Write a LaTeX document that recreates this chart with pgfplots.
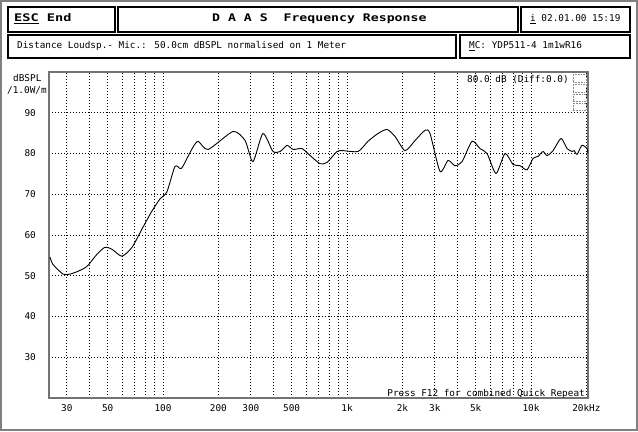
\documentclass[border=0pt]{standalone}
\usepackage{pgfplots}
\pgfplotsset{compat=1.18}
\usepackage{fontspec}
\setmainfont{DejaVu Sans Mono}
\newcommand{\sm}{\fontsize{9.4}{10}\selectfont}
\newcommand{\bigb}{\fontsize{10.5}{11}\selectfont\bfseries}
\begin{document}
\begin{tikzpicture}[x=1bp,y=1bp]
% canvas
\fill[white] (0,0) rectangle (638,431);
\draw[black!50, line width=2bp] (1,1) rectangle (637,430);
% header boxes
\begin{scope}[line width=2bp]
\draw (8,399) rectangle (115,424);
\draw (118,399) rectangle (518,424);
\draw (521,399) rectangle (630,424);
\draw (8,373) rectangle (456,396);
\draw (460,373) rectangle (630,396);
\end{scope}
\node[anchor=west, inner sep=0] at (14,412) {\bigb\scalebox{1.3}[1]{\underline{ESC} End}};
\node[anchor=west, inner sep=0] at (212,412) {\bigb\scalebox{1.26}[1]{D A A S\ \ Frequency Response}};
\node[anchor=west, inner sep=0] at (530,412) {\sm\underline{i} 02.01.00 15:19};
\node[anchor=west, inner sep=0] at (17,385) {\sm Distance Loudsp.- Mic.: 50.0cm dBSPL normalised on 1 Meter};
\node[anchor=west, inner sep=0] at (469,385) {\sm\underline{M}C: YDP511-4 1m1wR16};
% y unit label
\node[anchor=west, inner sep=0] at (13,353) {\sm dBSPL};
\node[anchor=west, inner sep=0] at (7,341) {\sm/1.0W/m};
\begin{axis}[
  at={(49bp,33bp)}, anchor=south west,
  scale only axis, width=539bp, height=326bp,
  xmode=log, xmin=24, xmax=20400, ymin=20, ymax=100,
  axis line style={draw=black!55, line width=1.6bp},
  xtick={30,50,100,200,300,500,1000,2000,3000,5000,10000,20000},
  xticklabels={30,50,100,200,300,500,1k,2k,3k,5k,10k,20kHz},
  minor xtick={30,40,50,60,70,80,90,100,200,300,400,500,600,700,800,900,1000,2000,3000,4000,5000,6000,7000,8000,9000,10000,20000},
  ytick={30,40,50,60,70,80,90},
  yticklabels={30,40,50,60,70,80,90},
  xmajorgrids=false, xminorgrids=true, ymajorgrids=true,
  major tick length=0pt, minor tick length=0pt,
  grid style={black, line width=0.9bp, dash pattern=on 0.9bp off 2.1bp},
  minor grid style={black, line width=0.9bp, dash pattern=on 0.9bp off 2.1bp},
  xticklabel style={font=\sm, inner sep=0pt, anchor=center, yshift=-10bp},
  yticklabel style={font=\sm, inner sep=0pt, anchor=east, xshift=-13bp},
  clip=true,
]
\addplot[black, line width=0.9bp, smooth, tension=0.4] table {
24.3 54.6
25.2 52.8
28.6 50.4
31.2 50.4
34.5 51.1
38.6 52.3
43.8 55.3
48.4 57.0
52.8 56.5
59.8 54.8
67.9 57.0
76.9 61.5
87.1 65.9
96.4 68.9
105 70.6
116 76.8
124 76.3
128 76.8
144 81.2
155 83.0
176 81.0
240 85.4
279 83.2
308 78.0
349 84.9
396 80.5
433 80.5
472 82.0
509 81.0
569 81.2
630 79.5
713 77.5
778 77.8
883 80.5
951 80.7
1148 80.5
1300 83.0
1473 84.9
1649 85.9
1822 84.2
2066 80.7
2343 83.2
2654 85.7
2825 84.9
3201 75.6
3540 78.3
3864 77.0
4218 78.0
4779 83.0
5280 81.2
5768 80.0
6454 75.1
7223 80.0
7986 77.3
8714 77.0
9510 76.0
10254 78.8
10914 79.3
11614 80.5
12218 79.5
13170 80.7
14554 83.7
15697 81.2
16711 80.5
17140 80.7
17783 79.8
18923 82.0
20140 81.2
20400 80.0
};
\end{axis}
% annotations inside plot
\node[anchor=west, inner sep=0] at (467,351) {\sm 80.0 dB (Diff:0.0)};
\begin{scope}[black!45, line width=0.6bp, densely dotted]
\draw (573,349) rectangle (586,357);
\draw (573,339) rectangle (586,347);
\draw (573,330) rectangle (586,337);
\draw (573,321) rectangle (586,328);
\end{scope}
\node[anchor=base east, inner sep=0] at (585,35) {\sm Press F12 for combined Quick Repeat};
\end{tikzpicture}
\end{document}
